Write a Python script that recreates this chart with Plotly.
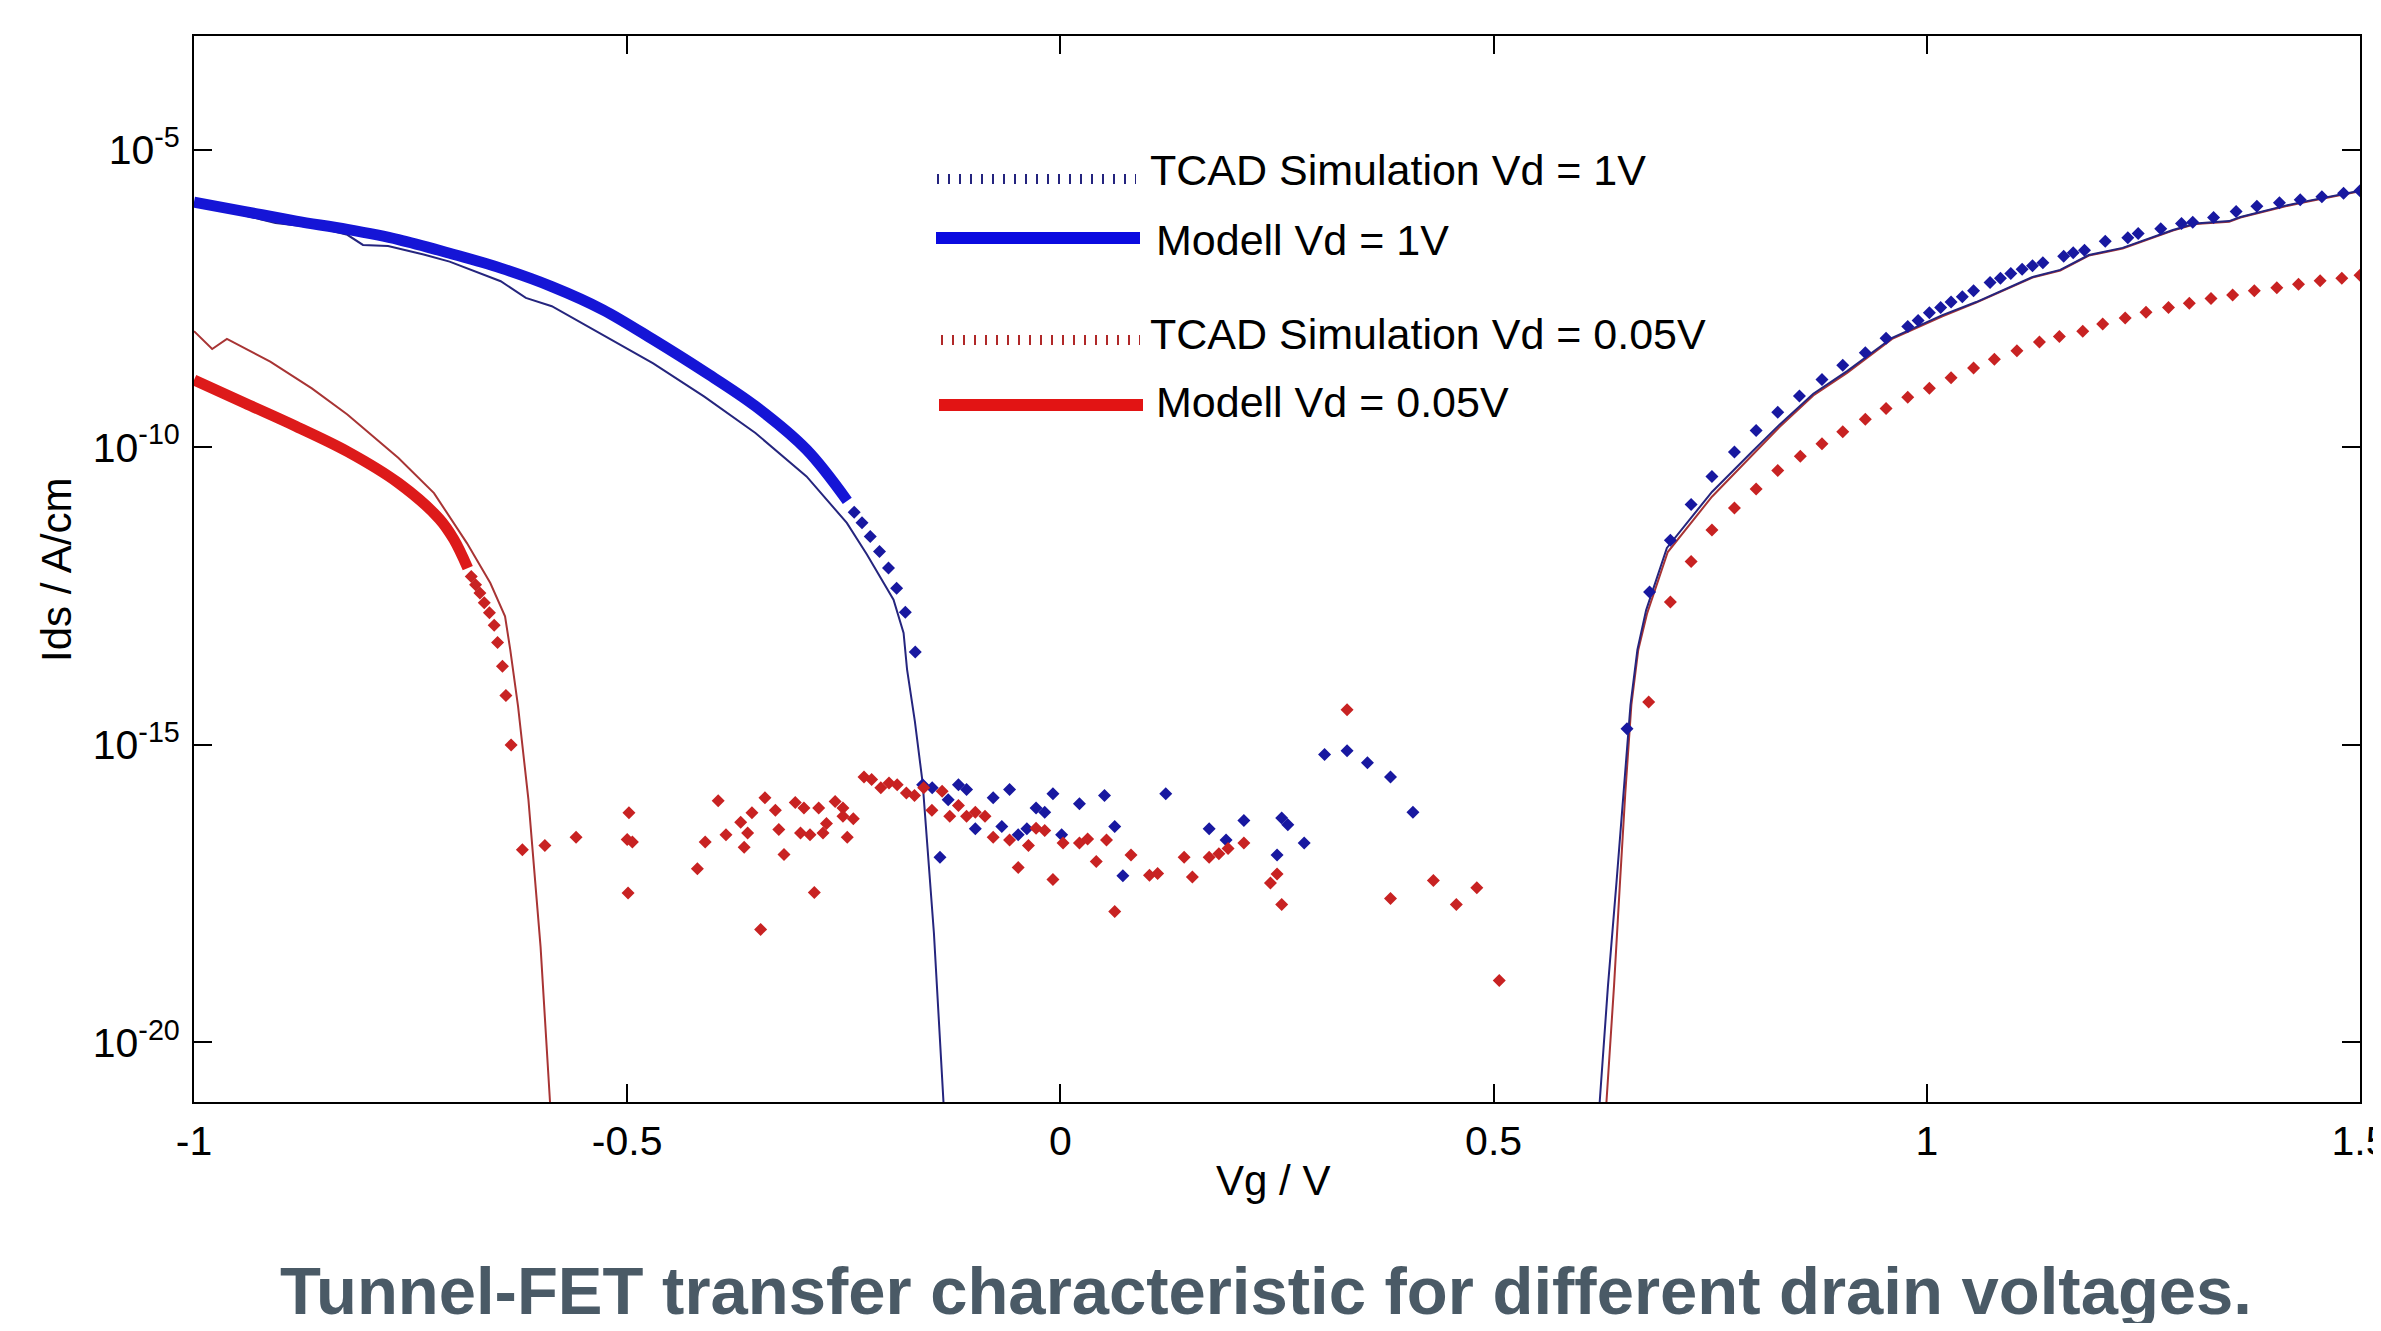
import plotly.graph_objects as go

# ---------------- data (x = Vg in V, values = log10(Ids / A/cm)) ----------------
blue_band_x = [-1.000, -0.941, -0.882, -0.823, -0.764, -0.705, -0.646, -0.587, -0.528, -0.470, -0.411, -0.352, -0.293, -0.246]
blue_band_log = [-5.88, -6.04, -6.20, -6.34, -6.51, -6.74, -6.99, -7.30, -7.69, -8.19, -8.73, -9.31, -10.04, -10.90]

blue_pts_x = [-0.238, -0.229, -0.2195, -0.2088, -0.1984, -0.189, -0.179, -0.1675,
              -0.159, -0.148, -0.139, -0.1295, -0.1177, -0.1083, -0.0982, -0.0776, -0.0676, -0.0587,
              -0.0487, -0.0387, -0.0281, -0.0181, -0.0086, 0.0014, 0.0220, 0.0509, 0.0627, 0.0721,
              0.1216, 0.1717, 0.1912, 0.2118, 0.2501, 0.2554, 0.2625, 0.2814, 0.3049, 0.3309, 0.3544,
              0.3810, 0.4069,
              0.654, 0.680, 0.704, 0.728, 0.752, 0.778, 0.803, 0.828, 0.853, 0.879, 0.903, 0.929, 0.953,
              0.978, 0.990, 1.003, 1.016, 1.028, 1.041, 1.054, 1.073, 1.085, 1.097, 1.110, 1.122, 1.134,
              1.158, 1.169, 1.182, 1.206, 1.232, 1.244, 1.270, 1.294, 1.307, 1.331, 1.357, 1.381, 1.407,
              1.431, 1.456, 1.481, 1.500]
blue_pts_log = [-11.09, -11.27, -11.50, -11.75, -12.03, -12.37, -12.77, -13.44,
                -15.67, -15.72, -16.89, -15.92, -15.67, -15.75, -16.41, -15.89, -16.37, -15.75,
                -16.51, -16.41, -16.06, -16.13, -15.82, -16.51, -15.99, -15.85, -16.37, -17.20,
                -15.82, -16.41, -16.60, -16.27, -16.85, -16.23, -16.34, -16.65, -15.16, -15.10, -15.30,
                -15.54, -16.13,
                -14.73, -12.43, -11.56, -10.96, -10.49, -10.08, -9.72, -9.41, -9.14, -8.86, -8.62, -8.41, -8.17,
                -7.97, -7.87, -7.74, -7.65, -7.56, -7.47, -7.37, -7.23, -7.16, -7.08, -7.01, -6.95, -6.90,
                -6.79, -6.73, -6.69, -6.54, -6.48, -6.41, -6.33, -6.24, -6.22, -6.14, -6.04, -5.95, -5.89,
                -5.84, -5.79, -5.73, -5.69]

red_band_x = [-1.000, -0.941, -0.882, -0.823, -0.764, -0.717, -0.700, -0.684]
red_band_log = [-8.87, -9.26, -9.65, -10.07, -10.60, -11.20, -11.55, -12.03]

red_pts_x = [-0.680, -0.675, -0.670, -0.665, -0.659, -0.6535, -0.6496, -0.644, -0.640, -0.634,
             -0.621, -0.595, -0.559, -0.498, -0.500, -0.494, -0.499, -0.419, -0.410, -0.395, -0.386,
             -0.369, -0.361, -0.365, -0.356, -0.346, -0.341, -0.329, -0.325, -0.319, -0.306,
             -0.300, -0.296, -0.289, -0.284, -0.279, -0.274, -0.270, -0.260, -0.251, -0.251, -0.246, -0.239,
             -0.2267, -0.2179, -0.2073, -0.1978, -0.1884, -0.1778, -0.1684, -0.1578, -0.1483, -0.1365,
             -0.1277, -0.1177, -0.1083, -0.0982, -0.0870, -0.0776, -0.0587, -0.0487, -0.0369, -0.0281,
             -0.0181, -0.0086, 0.0031, 0.0220, 0.0314, 0.0414, 0.0532, 0.0627, 0.0815, 0.1028, 0.1122,
             0.1428, 0.1523, 0.1717, 0.1829, 0.1935, 0.2118, 0.2424, 0.2501, 0.2554, 0.3309, 0.3810,
             0.4305, 0.4570, 0.4806, 0.5065,
             0.679, 0.704, 0.728, 0.752, 0.778, 0.803, 0.828, 0.854, 0.879, 0.903, 0.929, 0.953, 0.978,
             1.003, 1.028, 1.054, 1.078, 1.104, 1.130, 1.153, 1.180, 1.203, 1.229, 1.253, 1.279, 1.303,
             1.328, 1.353, 1.378, 1.404, 1.429, 1.454, 1.479, 1.500]
red_pts_log = [-12.17, -12.31, -12.45, -12.61, -12.78, -12.99, -13.28, -13.68, -14.17, -15.00,
               -16.76, -16.69, -16.55, -16.14, -16.59, -16.63, -17.49, -17.08, -16.63, -15.94, -16.51,
               -16.30, -16.48, -16.72, -16.14, -18.10, -15.89, -16.10, -16.42, -16.84, -15.97,
               -16.48, -16.06, -16.51, -17.48, -16.06, -16.48, -16.32, -15.95, -16.06, -16.20, -16.55, -16.24,
               -15.54, -15.58, -15.72, -15.64, -15.67, -15.81, -15.85, -15.72, -16.10, -15.78,
               -16.20, -16.02, -16.20, -16.13, -16.20, -16.55, -16.60, -17.06, -16.69, -16.40,
               -16.44, -17.26, -16.65, -16.65, -16.58, -16.96, -16.60, -17.80, -16.85, -17.19, -17.16,
               -16.89, -17.22, -16.89, -16.83, -16.74, -16.65, -17.32, -17.17, -17.68, -14.41, -17.58,
               -17.28, -17.68, -17.40, -18.96,
               -14.28, -12.60, -11.92, -11.39, -11.02, -10.70, -10.39, -10.15, -9.94, -9.74, -9.53, -9.35, -9.16,
               -9.01, -8.83, -8.67, -8.52, -8.38, -8.23, -8.14, -8.05, -7.93, -7.83, -7.73, -7.65, -7.58,
               -7.50, -7.44, -7.37, -7.32, -7.26, -7.20, -7.16, -7.11]

blue_line_x = [-1.000, -0.929, -0.906, -0.853, -0.823, -0.805, -0.776, -0.735, -0.705, -0.646, -0.617,
               -0.587, -0.528, -0.470, -0.411, -0.352, -0.293, -0.2465, -0.2233, -0.208, -0.1926, -0.181,
               -0.177, -0.168, -0.159, -0.146, -0.135, -0.133, None,
               0.620, 0.632, 0.642, 0.650, 0.658, 0.666, 0.676, 0.700, 0.752, 0.798, 0.830, 0.869, 0.908,
               0.960, 1.018, 1.057, 1.122, 1.154, 1.187, 1.226, 1.284, 1.310, 1.349, 1.362, 1.414, 1.440, 1.500]
blue_line_log = [-5.90, -6.15, -6.23, -6.32, -6.43, -6.60, -6.62, -6.76, -6.88, -7.21, -7.49,
                 -7.63, -8.11, -8.59, -9.15, -9.76, -10.49, -11.27, -11.80, -12.17, -12.56, -13.12,
                 -13.73, -14.60, -15.64, -18.16, -20.96, -21.50, None,
                 -21.50, -19.05, -17.28, -15.81, -14.33, -13.40, -12.74, -11.69, -10.75, -10.08, -9.62, -9.10, -8.72,
                 -8.16, -7.78, -7.56, -7.14, -7.02, -6.77, -6.65, -6.35, -6.24, -6.20, -6.13, -5.94, -5.86, -5.69]

red_line_x = [-1.000, -0.979, -0.962, -0.912, -0.864, -0.823, -0.764, -0.723, -0.685, -0.658, -0.641,
              -0.635, -0.626, -0.614, -0.600, -0.589, -0.587, None,
              0.628, 0.639, 0.646, 0.652, 0.659, 0.667, 0.677, 0.701, 0.752, 0.798, 0.830, 0.869, 0.908,
              0.960, 1.018, 1.057, 1.122, 1.154, 1.187, 1.226, 1.284, 1.310, 1.349, 1.362, 1.414, 1.440, 1.500]
red_line_log = [-8.05, -8.35, -8.18, -8.56, -9.01, -9.45, -10.18, -10.77, -11.61, -12.28, -12.84,
                -13.40, -14.35, -15.92, -18.39, -20.94, -21.50, None,
                -21.50, -19.05, -17.28, -15.81, -14.33, -13.40, -12.80, -11.76, -10.83, -10.14, -9.66, -9.13, -8.75,
                -8.18, -7.80, -7.57, -7.15, -7.03, -6.78, -6.66, -6.36, -6.25, -6.21, -6.14, -5.95, -5.87, -5.70]

x_tick_vals = [-1, -0.5, 0, 0.5, 1, 1.5]
x_tick_text = ["-1", "-0.5", "0", "0.5", "1", "1.5"]
y_tick_vals = [1e-20, 1e-15, 1e-10, 1e-5]
y_tick_text = ["10<sup>-20</sup>", "10<sup>-15</sup>", "10<sup>-10</sup>", "10<sup>-5</sup>"]

legend_labels = ["TCAD Simulation Vd = 1V", "Modell Vd = 1V",
                 "TCAD Simulation Vd = 0.05V", "Modell Vd = 0.05V"]

title_text = "Tunnel-FET transfer characteristic for different drain voltages."


def vals(logs):
    return [None if v is None else 10 ** v for v in logs]


# ---------------- figure ----------------
# The page body has an 8px margin, so the figure is made 16px smaller and the
# margins are reduced by 8px so that the plot area lands at screen 194..2360 x 36..1102.
OFF = 8
W, H = 2381 - 2 * OFF, 1331 - 2 * OFF
SL, SR, ST, SB = 194, 2360, 36, 1102          # plot area in screen pixels
L, T = SL - OFF, ST - OFF
R, B = W - (SR - OFF), H - (SB - OFF)
PW, PH = SR - SL, SB - ST


def px(X):
    return (X - SL) / PW


def py(Y):
    return 1 - (Y - ST) / PH


fig = go.Figure()

fig.add_trace(go.Scatter(x=red_line_x, y=vals(red_line_log), mode="lines",
                         line=dict(color="#a83434", width=2), showlegend=False, connectgaps=False))
fig.add_trace(go.Scatter(x=blue_line_x, y=vals(blue_line_log), mode="lines",
                         line=dict(color="#25257e", width=2), showlegend=False, connectgaps=False))

fig.add_trace(go.Scatter(x=blue_band_x, y=vals(blue_band_log), mode="lines",
                         line=dict(color="#1515d6", width=11, shape="spline"), showlegend=False))
fig.add_trace(go.Scatter(x=red_band_x, y=vals(red_band_log), mode="lines",
                         line=dict(color="#dd1a1a", width=11, shape="spline"), showlegend=False))

fig.add_trace(go.Scatter(x=blue_pts_x, y=vals(blue_pts_log), mode="markers",
                         marker=dict(symbol="diamond", size=10, color="#1818a0"), showlegend=False))
fig.add_trace(go.Scatter(x=red_pts_x, y=vals(red_pts_log), mode="markers",
                         marker=dict(symbol="diamond", size=10, color="#c82222"), showlegend=False))

# hand-drawn legend (as in the original)
legend_rows = [
    dict(x0=937, x1=1136, y=179, color="#23237e", width=10, dash="2px,9px", tx=1148, ty=170),
    dict(x0=936, x1=1140, y=238, color="#0a0ae0", width=12, dash="solid", tx=1154, ty=240),
    dict(x0=941, x1=1140, y=340, color="#b02828", width=10, dash="2px,9px", tx=1148, ty=334),
    dict(x0=939, x1=1143, y=405, color="#e21414", width=12, dash="solid", tx=1154, ty=402),
]
shapes = []
annotations = []
for row, lab in zip(legend_rows, legend_labels):
    shapes.append(dict(type="line", xref="paper", yref="paper",
                       x0=px(row["x0"]), x1=px(row["x1"]), y0=py(row["y"]), y1=py(row["y"]),
                       line=dict(color=row["color"], width=row["width"], dash=row["dash"])))
    annotations.append(dict(xref="paper", yref="paper", x=px(row["tx"]), y=py(row["ty"]),
                            xanchor="left", yanchor="middle", showarrow=False, text=lab,
                            font=dict(family="Liberation Sans, Arial, sans-serif", size=43, color="black")))

annotations.append(dict(xref="paper", yref="paper", x=px(1273), y=py(1180), xanchor="center",
                        yanchor="middle", showarrow=False, text="Vg / V",
                        font=dict(family="Liberation Sans, Arial, sans-serif", size=42, color="black")))
annotations.append(dict(xref="paper", yref="paper", x=px(56), y=py(570), xanchor="center",
                        yanchor="middle", showarrow=False, text="Ids / A/cm", textangle=-90,
                        font=dict(family="Liberation Sans, Arial, sans-serif", size=42, color="black")))
annotations.append(dict(xref="paper", yref="paper", x=px(1266), y=py(1290), xanchor="center",
                        yanchor="middle", showarrow=False, text="<b>" + title_text + "</b>",
                        font=dict(family="Liberation Sans, Arial, sans-serif",
                                  size=67, color="#4a5a66")))

fig.update_layout(
    width=W, height=H,
    margin=dict(l=L, r=R, t=T, b=B, pad=0, autoexpand=False),
    paper_bgcolor="white", plot_bgcolor="white",
    showlegend=False,
    shapes=shapes, annotations=annotations,
    font=dict(family="Liberation Sans, Arial, sans-serif", size=41, color="black"),
)
fig.update_xaxes(range=[-1, 1.5], tickvals=x_tick_vals, ticktext=x_tick_text,
                 ticks="inside", ticklen=18, tickwidth=2, tickcolor="black",
                 showline=True, linecolor="black", linewidth=2, mirror="ticks",
                 showgrid=False, zeroline=False, ticklabelstandoff=2,
                 ticklabeloverflow="allow", automargin=False,
                 tickfont=dict(size=41, color="black"))
fig.update_yaxes(type="log", range=[-21.0, -3.09], tickvals=y_tick_vals, ticktext=y_tick_text,
                 ticks="inside", ticklen=18, tickwidth=2, tickcolor="black",
                 showline=True, linecolor="black", linewidth=2, mirror="ticks",
                 showgrid=False, zeroline=False, ticklabelstandoff=4, automargin=False,
                 tickfont=dict(size=41, color="black"))

fig.write_html("out.html")
